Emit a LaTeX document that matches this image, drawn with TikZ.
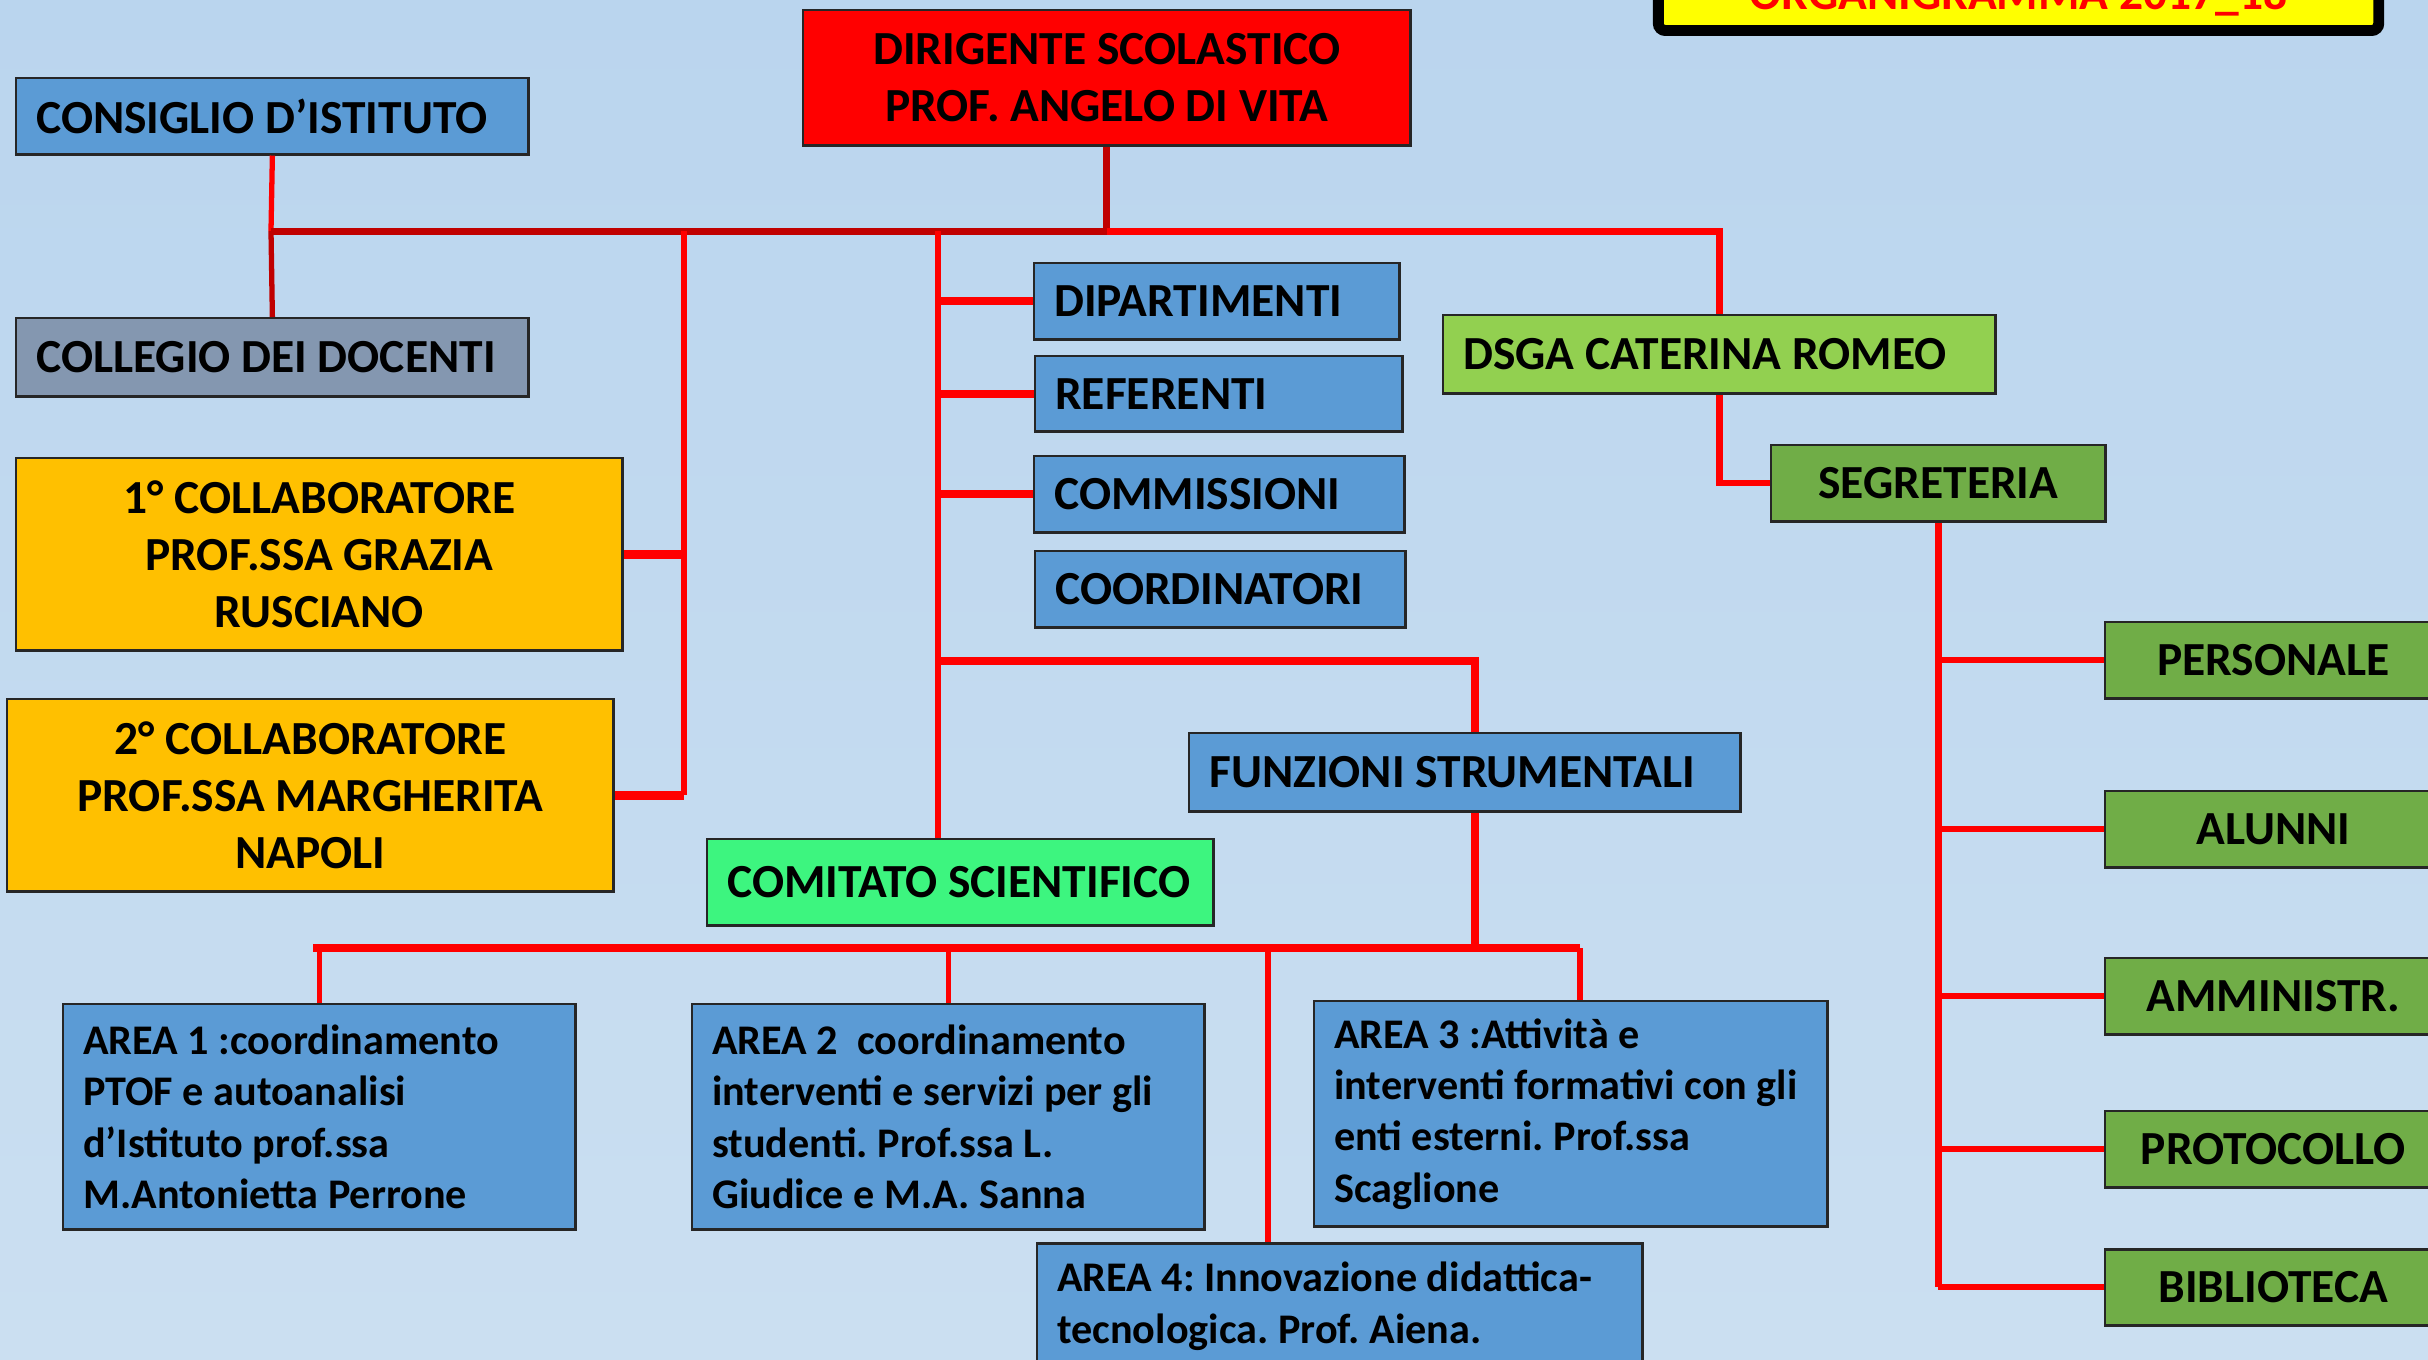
\documentclass[tikz,border=0pt]{standalone}
\usepackage{fontspec}
\setmainfont{Carlito}
\frenchspacing
\newcommand\grande{\fontsize{13.5}{16.2}\selectfont\bfseries}
\newcommand\piccolo{\fontsize{12}{14.6}\selectfont\bfseries}
\definecolor{rosso}{HTML}{FF0000}
\definecolor{rossoscuro}{HTML}{C00000}
\definecolor{blu}{HTML}{5B9BD5}
\definecolor{grigio}{HTML}{8497B0}
\definecolor{arancio}{HTML}{FFC000}
\definecolor{verdechiaro}{HTML}{92D050}
\definecolor{verde}{HTML}{70AD47}
\definecolor{verdeacceso}{HTML}{3DF57F}
\definecolor{giallo}{HTML}{FFFF00}
\definecolor{sfondoalto}{HTML}{BAD5EE}
\definecolor{sfondobasso}{HTML}{CBDFF1}
\tikzset{
    box/.style={draw=black!85, line width=0.7pt, inner xsep=0.2cm, inner ysep=0pt, font=\grande, anchor=north west},
    sx/.style={box, align=flush left},
    cx/.style={box, align=center},
    area/.style={sx, fill=blu, font=\piccolo},
    titolo/.style={draw=black, line width=3.1pt, rounded corners=2pt, fill=giallo, text=rosso, font=\grande,
        minimum width=7.2cm, inner ysep=0.215cm, text depth=0pt, anchor=base},
    filo/.style={draw=rosso, line width=1.5pt},
    filoscuro/.style={draw=rossoscuro, line width=1.5pt},
    filospesso/.style={draw=rosso, line width=2.4pt},
}

\begin{document}
\begin{tikzpicture}[x=0.01cm, y=-0.01cm]
    \useasboundingbox (0,0) rectangle (2428,1359);
    \shade [top color=sfondoalto, bottom color=sfondobasso] (0,0) rectangle (2428,1359);

    \node [titolo] (titolo) at (2018.5,9) {ORGANIGRAMMA 2017\_18};
    \node [cx, fill=rosso, minimum width=6.07cm, minimum height=1.35cm] (dirigente) at (802,9) {DIRIGENTE SCOLASTICO\\PROF. ANGELO DI VITA};
    \node [sx, fill=blu, text width=4.72cm, minimum height=0.76cm] (consiglio) at (15,77) {CONSIGLIO D’ISTITUTO};
    \node [sx, fill=grigio, text width=4.72cm, minimum height=0.78cm] (collegio) at (15,317) {COLLEGIO DEI DOCENTI};
    \node [cx, fill=arancio, minimum width=6.06cm, minimum height=1.92cm] (collab1) at (15,457) {1° COLLABORATORE\\PROF.SSA GRAZIA\\RUSCIANO};
    \node [cx, fill=arancio, minimum width=6.06cm, minimum height=1.92cm] (collab2) at (6,698) {2° COLLABORATORE\\PROF.SSA MARGHERITA\\NAPOLI};
    \node [sx, fill=blu, text width=3.25cm, minimum height=0.76cm] (dipartimenti) at (1033,262) {DIPARTIMENTI};
    \node [sx, fill=blu, text width=3.27cm, minimum height=0.75cm] (referenti) at (1034,355) {REFERENTI};
    \node [sx, fill=blu, text width=3.30cm, minimum height=0.76cm] (commissioni) at (1033,455) {COMMISSIONI};
    \node [sx, fill=blu, text width=3.30cm, minimum height=0.76cm] (coordinatori) at (1034,550) {COORDINATORI};
    \node [sx, fill=verdechiaro, text width=5.12cm, minimum height=0.78cm] (dsga) at (1442,314) {DSGA CATERINA ROMEO};
    \node [cx, fill=verde, minimum width=3.34cm, minimum height=0.76cm] (segreteria) at (1770,444) {SEGRETERIA};
    \foreach \n/\t/\y in {personale/PERSONALE/621, alunni/ALUNNI/790, amministr/AMMINISTR./957,
            protocollo/PROTOCOLLO/1110, biblioteca/BIBLIOTECA/1248}
        \node [cx, fill=verde, minimum width=3.36cm, minimum height=0.76cm] (\n) at (2104,\y) {\t};
    \node [sx, fill=blu, text width=5.11cm, minimum height=0.78cm] (funzioni) at (1188,732) {FUNZIONI STRUMENTALI};
    \node [sx, fill=verdeacceso, text width=4.66cm, minimum height=0.86cm] (comitato) at (706,838) {COMITATO SCIENTIFICO};
    \node [area, text width=4.72cm, minimum height=2.25cm] (area1) at (62,1003)
        {AREA 1 :coordinamento\\PTOF e autoanalisi\\d’Istituto prof.ssa\\M.Antonietta Perrone};
    \node [area, text width=4.72cm, minimum height=2.25cm] (area2) at (691,1003)
        {AREA 2~ coordinamento\\interventi e servizi per gli\\studenti. Prof.ssa L.\\Giudice e M.A. Sanna};
    \node [area, text width=4.73cm, minimum height=2.25cm] (area3) at (1313,1000)
        {AREA 3 :Attività e\\interventi formativi con gli\\enti esterni. Prof.ssa\\Scaglione};
    \node [area, text width=5.65cm, minimum height=1.26cm] (area4) at (1036,1242)
        {AREA 4: Innovazione didattica-\\tecnologica. Prof. Aiena.};

    \coordinate (busL) at (271,231);
    \coordinate (nodoC) at (684,231);
    \coordinate (nodoS) at (938,231);
    \coordinate (ramoF) at (938,661);
    \coordinate (busA) at (313,948);
    \coordinate (dropA4) at (1268,948);

    \draw [filo] (consiglio.south) to (busL);
    \draw [filoscuro] (busL) to (collegio.north);
    \draw [filoscuro, line width=2pt] (busL) to (dirigente.south |- busL) to (dirigente.south);
    \draw [filo, line width=2pt] (dirigente.south |- busL) -| (dsga.north);
    \draw [filo] (nodoC) to (nodoC |- collab2.east);
    \draw [filospesso] (collab1.east) to (collab1.east -| nodoC);
    \draw [filospesso] (collab2.east) to (collab2.east -| nodoC);
    \draw [filo] (nodoS) to (nodoS |- comitato.north);
    \foreach \n in {dipartimenti, referenti, commissioni}
        \draw [filospesso] (\n.west) to (\n.west -| nodoS);
    \draw [filospesso] (ramoF) -| ([xshift=0.1cm]funzioni.north);
    \draw [filo, line width=1.8pt] (dsga.south) |- (segreteria.west);
    \draw [filo, line width=1.8pt] (segreteria.south) to (segreteria.south |- biblioteca.west);
    \foreach \n in {personale, alunni, amministr, protocollo, biblioteca}
        \draw [filo, line width=1.8pt] (segreteria.south |- \n.west) to (\n.west);
    \draw [filospesso] ([xshift=0.1cm]funzioni.south) to ([xshift=0.1cm]funzioni.south |- busA);
    \draw [filospesso] (busA) to ([xshift=0.09cm]area3.north |- busA);
    \foreach \n in {area1, area2}
        \draw [filo] (\n.north |- busA) to (\n.north);
    \draw [filo] ([xshift=0.09cm]area3.north |- busA) to ([xshift=0.09cm]area3.north);
    \draw [filo] (dropA4) to (dropA4 |- area4.north);
\end{tikzpicture}
\end{document}
